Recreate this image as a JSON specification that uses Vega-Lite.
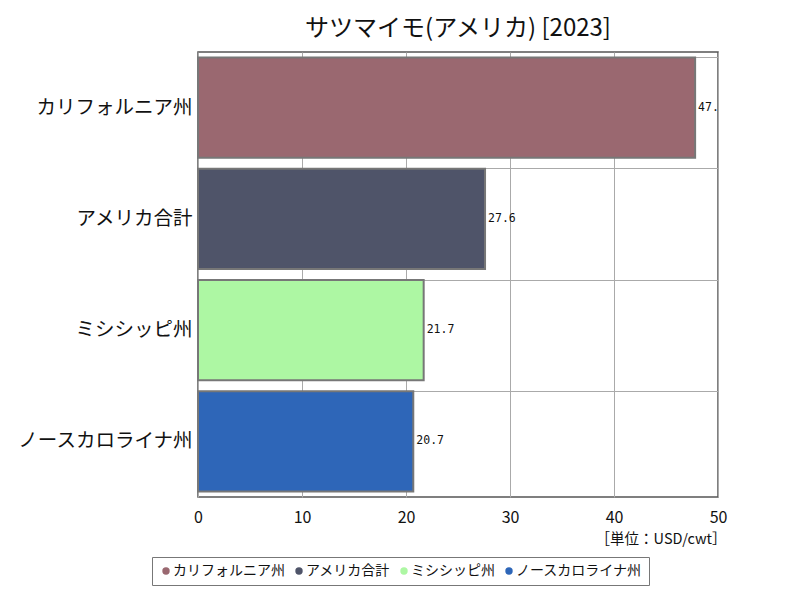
{
  "$schema": "https://vega.github.io/schema/vega-lite/v6.json",
  "autosize": {"type": "none"},
  "width": 520,
  "height": 445,
  "padding": {"left": 198, "top": 52, "right": 82, "bottom": 103},
  "background": "white",
  "title": {"text": "サツマイモ(アメリカ) [2023]", "font": "Noto Sans CJK JP", "fontSize": 24, "fontWeight": "normal", "color": "#111111", "offset": 11, "anchor": "middle"},
  "config": {
    "font": "Noto Sans CJK JP",
    "view": {"stroke": "#555555", "strokeWidth": 1.5}
  },
  "data": {"values": [
    {"region": "カリフォルニア州", "value": 47.8},
    {"region": "アメリカ合計", "value": 27.6},
    {"region": "ミシシッピ州", "value": 21.7},
    {"region": "ノースカロライナ州", "value": 20.7}
  ]},
  "encoding": {
    "y": {"field": "region", "type": "nominal", "sort": null,
      "scale": {"paddingInner": 0.1, "paddingOuter": 0.05},
      "axis": {"title": null, "labelFontSize": 19.5, "labelColor": "#111111", "ticks": false, "labelPadding": 6, "domain": false, "grid": true, "bandPosition": 0, "gridColor": "#aaaaaa", "gridWidth": 1}},
    "x": {"field": "value", "type": "quantitative",
      "scale": {"domain": [0, 50], "nice": false},
      "axis": {"values": [0, 10, 20, 30, 40, 50], "labelFontSize": 16, "labelColor": "#111111", "labelFlush": false, "ticks": false, "domain": false, "labelPadding": 12, "gridColor": "#aaaaaa", "gridWidth": 1,
        "title": "［単位：USD/cwt］", "titleFontSize": 14.5, "titleFontWeight": "normal", "titleColor": "#111111", "titleAnchor": "end", "titleAlign": "right", "titleBaseline": "middle", "titleX": 528, "titleY": 42}}
  },
  "layer": [
    {"mark": {"type": "bar", "stroke": "#777777", "strokeWidth": 2},
      "encoding": {"color": {"field": "region", "type": "nominal", "sort": null,
        "scale": {"domain": ["カリフォルニア州", "アメリカ合計", "ミシシッピ州", "ノースカロライナ州"], "range": ["#9A6870", "#4F5469", "#ADF7A3", "#2E66B8"]},
        "legend": {"orient": "none", "legendX": -46, "legendY": 505, "direction": "horizontal", "title": null, "symbolType": "circle", "symbolSize": 55, "symbolStrokeWidth": 0, "labelFontSize": 14, "labelColor": "#111111", "strokeColor": "#777777", "padding": 7, "columnPadding": 7, "symbolOffset": 0, "labelOffset": 0}}}},
    {"mark": {"type": "text", "align": "left", "baseline": "middle", "dx": 3, "font": "DejaVu Sans Mono", "fontSize": 11.5, "clip": true, "color": "#111111"},
      "encoding": {"text": {"field": "value", "type": "quantitative", "format": ".1f"}}}
  ]
}
